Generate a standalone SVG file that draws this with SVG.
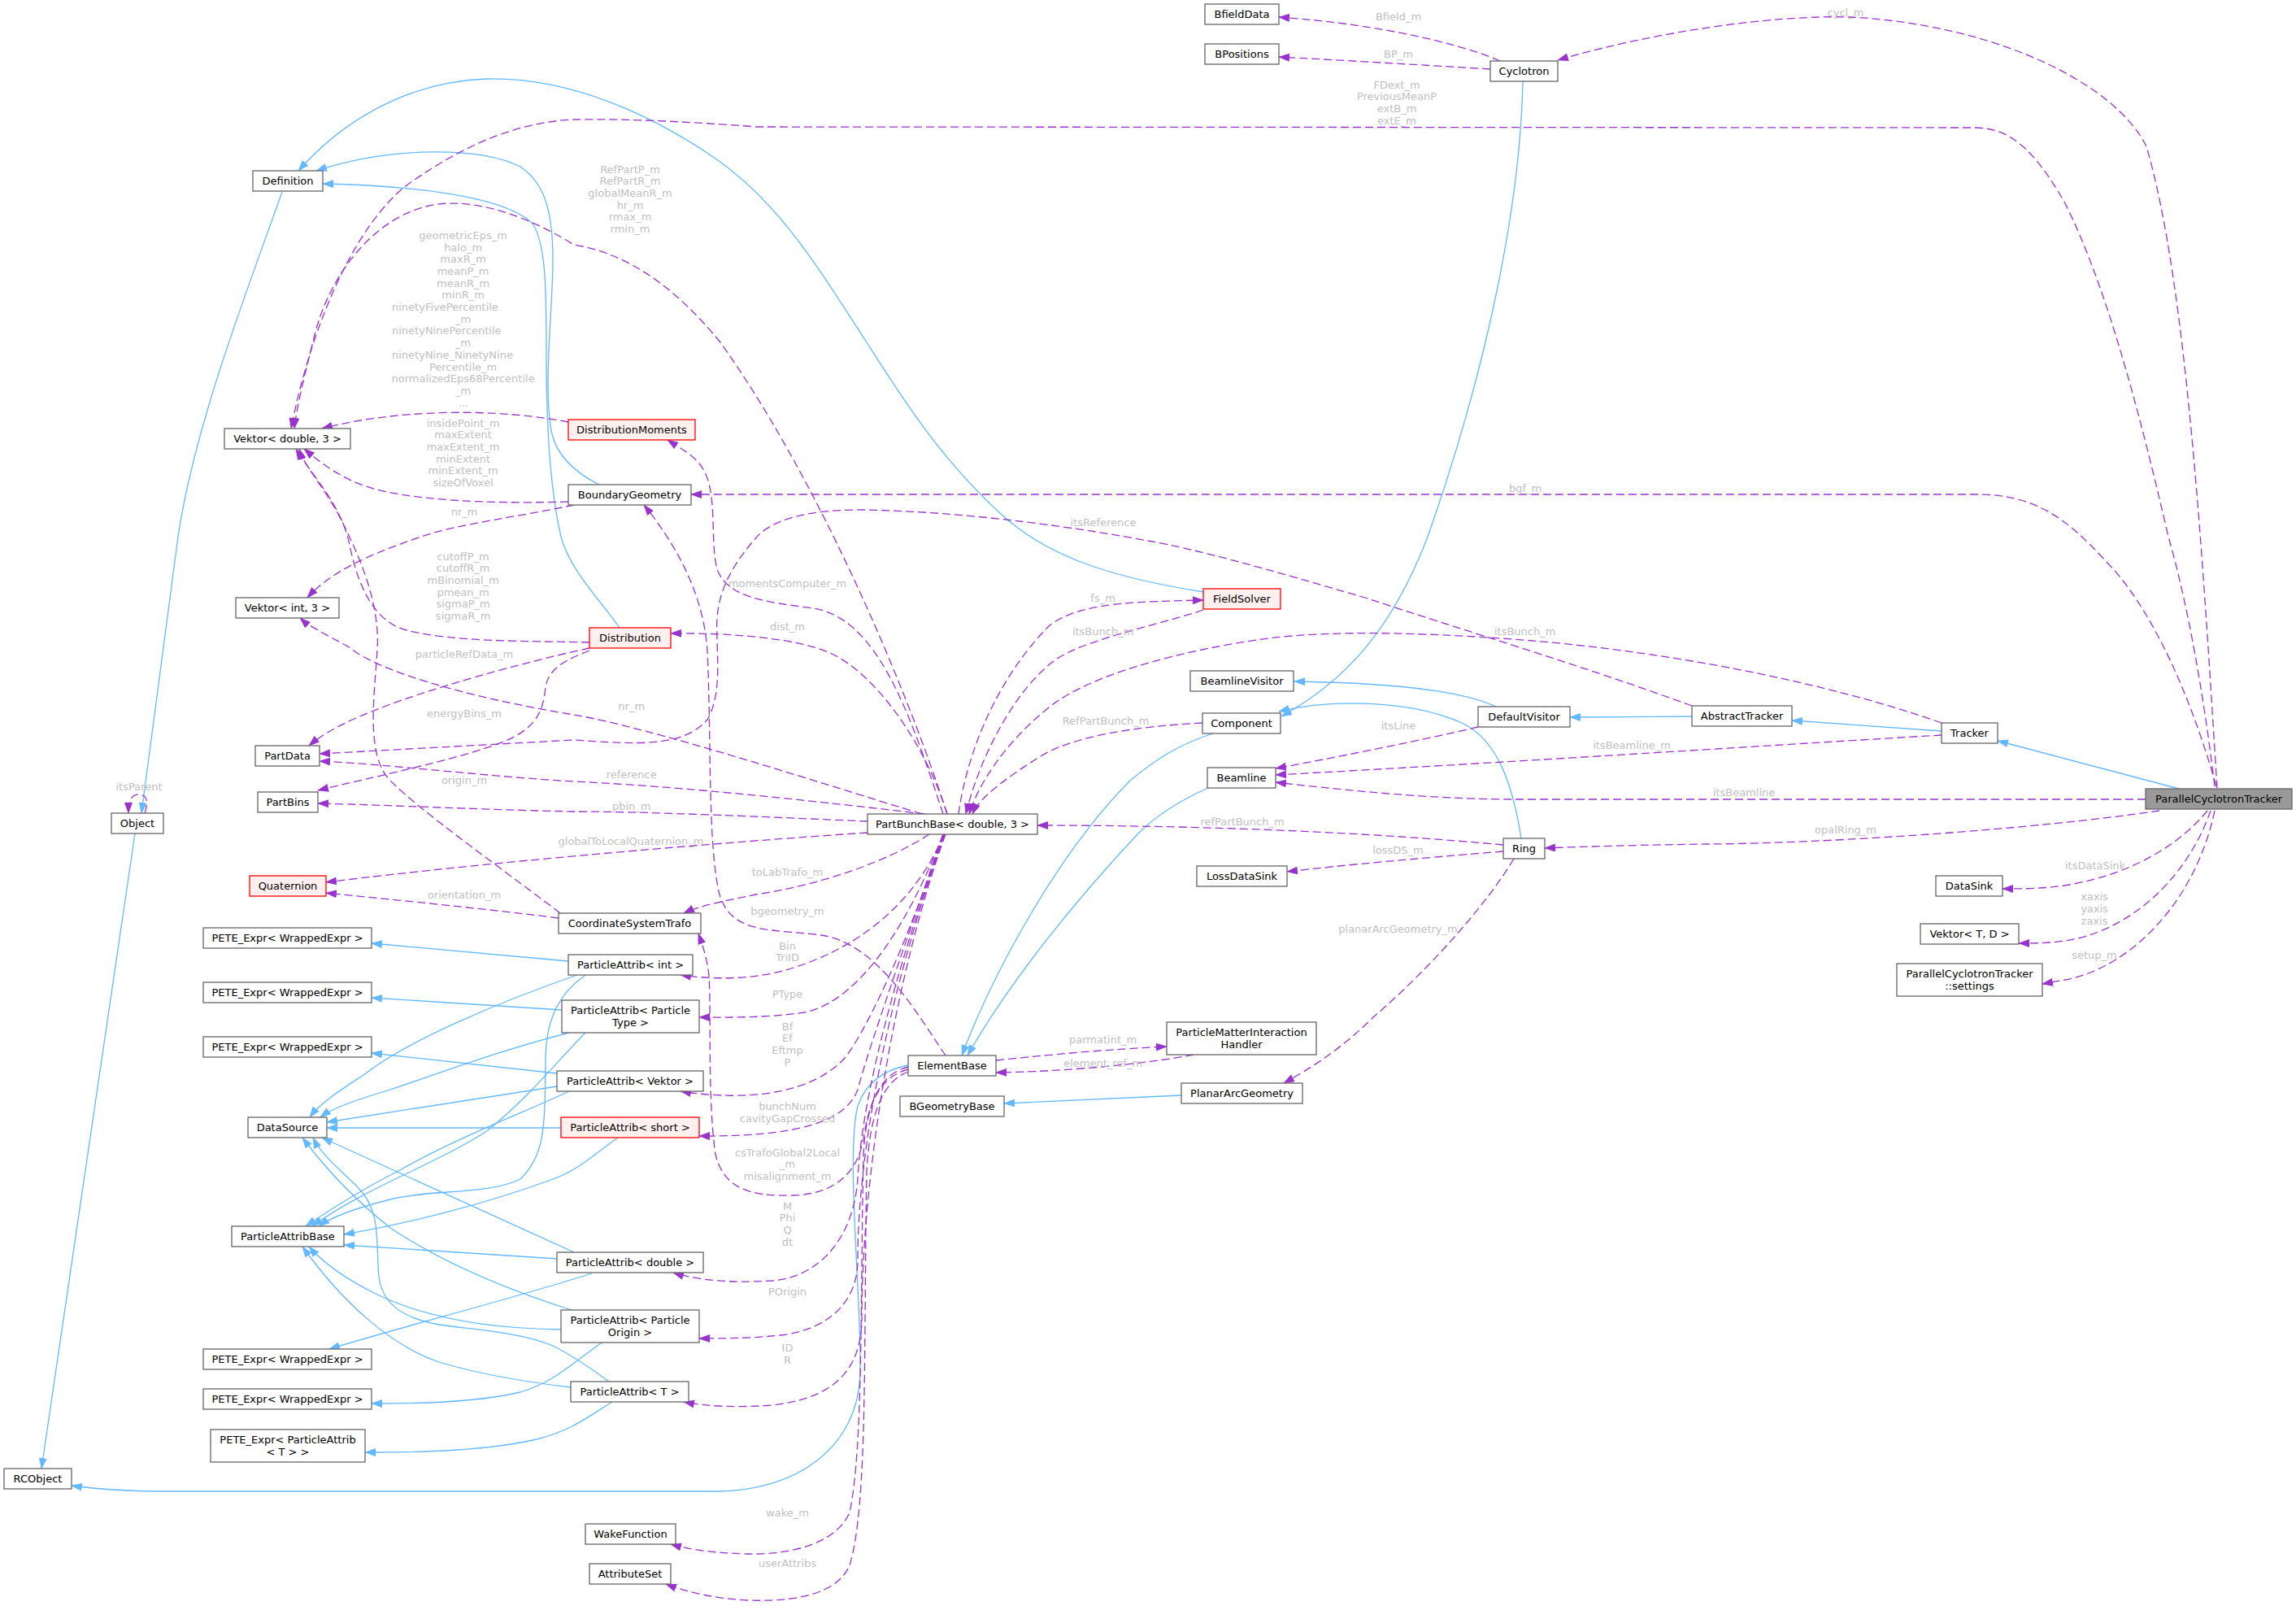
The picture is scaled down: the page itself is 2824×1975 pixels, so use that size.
<svg xmlns="http://www.w3.org/2000/svg" width="2824" height="1975" viewBox="0 0 2824 1975">
<style>
.n rect{fill:#fff;stroke:#666;stroke-width:1.3}
.n.r rect{fill:#fff0f0;stroke:#ff0000}
.n.g rect{fill:#999;stroke:#666}
.n text{font-family:"DejaVu Sans",sans-serif;font-size:13px;fill:#000;text-anchor:middle}
.i{fill:none;stroke:#63b8ff;stroke-width:1.3;marker-end:url(#ab)}
.u{fill:none;stroke:#9a32cd;stroke-width:1.3;stroke-dasharray:10,5;marker-end:url(#ap)}
.l{font-family:"DejaVu Sans",sans-serif;font-size:13px;fill:#c0c0c0;text-anchor:middle}
.ls{text-anchor:start}
</style>
<defs>
<marker id="ab" viewBox="0 0 14 10" refX="13" refY="5" markerWidth="14" markerHeight="10" markerUnits="userSpaceOnUse" orient="auto"><path d="M0,0 L14,5 L0,10 z" fill="#63b8ff"/></marker>
<marker id="ap" viewBox="0 0 14 10" refX="13" refY="5" markerWidth="14" markerHeight="10" markerUnits="userSpaceOnUse" orient="auto"><path d="M0,0 L14,5 L0,10 z" fill="#9a32cd"/></marker>
</defs>
<rect width="2824" height="1975" fill="#fff"/>
<g id="connectors">
<path class="i" d="M347,236 C305,355 240,520 219,660 L174,1000"/>
<path class="i" d="M166,1025 L51,1806"/>
<path class="i" d="M1480,728 C1380,712 1300,690 1240,640 C1160,570 1110,490 1066,421 C1010,335 960,250 880,195 C800,140 700,95 600,97 C500,100 420,150 367,210"/>
<path class="i" d="M737,596 C715,585 685,565 678,530 C668,470 680,380 680,320 C680,260 670,225 640,205 C590,180 480,180 389,210"/>
<path class="i" d="M762,772 C740,740 700,700 690,660 C676,600 672,520 672,440 C672,360 672,300 655,275 C620,240 500,228 397,226"/>
<path class="i" d="M1873,100 C1870,250 1830,450 1756,660 C1710,780 1650,840 1576,881"/>
<path class="i" d="M1871,1031 C1860,960 1840,910 1800,890 C1740,862 1640,858 1573,875"/>
<path class="i" d="M1840,869 C1800,850 1720,840 1592,838"/>
<path class="i" d="M2081,881 L1931,882"/>
<path class="i" d="M2388,899 L2204,886"/>
<path class="i" d="M2680,970 L2457,911"/>
<path class="i" d="M1492,902 C1450,915 1420,935 1390,960 C1300,1050 1220,1200 1183,1298"/>
<path class="i" d="M1486,969 C1450,985 1420,1005 1400,1025 C1320,1110 1240,1210 1190,1298"/>
<path class="i" d="M1453,1347 L1235,1357"/>
<path class="i" d="M1117,1310 C1090,1315 1065,1330 1055,1360 C1040,1420 1060,1600 1058,1690 C1055,1780 980,1834 880,1834 L200,1834 C150,1834 110,1830 88,1827"/>
<path class="i" d="M699,1182 L457,1160"/>
<path class="i" d="M691,1242 L457,1227"/>
<path class="i" d="M685,1320 L457,1295"/>
<path class="i" d="M728,1566 C620,1600 500,1630 405,1659"/>
<path class="i" d="M740,1651 C700,1680 680,1700 640,1712 C580,1726 500,1726 457,1726"/>
<path class="i" d="M753,1724 C720,1745 700,1760 660,1770 C600,1784 520,1786 449,1786"/>
<path class="i" d="M710,1199 C620,1230 500,1280 450,1320 C420,1340 395,1355 381,1374"/>
<path class="i" d="M700,1270 C620,1290 540,1320 480,1340 C440,1352 410,1362 394,1374"/>
<path class="i" d="M685,1336 L402,1380"/>
<path class="i" d="M690,1387 L402,1387"/>
<path class="i" d="M706,1540 L396,1399"/>
<path class="i" d="M706,1612 C620,1585 540,1550 480,1510 C430,1470 395,1430 372,1399"/>
<path class="i" d="M749,1699 C730,1685 700,1665 680,1655 C640,1638 580,1635 540,1629 C490,1620 470,1600 466,1570 C462,1530 470,1490 440,1460 C420,1440 395,1420 385,1399"/>
<path class="i" d="M720,1199 C690,1220 672,1250 671,1300 C670,1380 672,1420 640,1450 C600,1470 530,1462 480,1475 C440,1485 410,1495 392,1508"/>
<path class="i" d="M720,1270 C690,1300 650,1350 600,1390 C540,1430 450,1460 384,1508"/>
<path class="i" d="M700,1342 C640,1370 560,1400 490,1440 C450,1460 410,1485 376,1508"/>
<path class="i" d="M760,1399 C730,1420 710,1440 680,1450 C600,1480 500,1505 423,1518"/>
<path class="i" d="M685,1548 L423,1531"/>
<path class="i" d="M690,1635 C600,1634 520,1620 460,1590 C420,1570 395,1550 380,1533"/>
<path class="i" d="M702,1706 C650,1700 590,1690 540,1675 C480,1655 420,1600 372,1533"/>
<path class="u" d="M2727,969 C2710,700 2690,350 2640,180 C2600,100 2450,30 2276,21 C2180,18 2030,40 1916,74"/>
<path class="u" d="M2724,967 C2710,850 2690,740 2667,660 C2630,500 2590,350 2540,250 C2500,180 2470,157 2428,157 L931,156 C850,150 780,146 706,147 C630,150 560,185 500,228 C440,275 385,390 358,527"/>
<path class="u" d="M2726,967 C2690,840 2640,740 2590,690 C2540,635 2500,608 2433,608 L850,608"/>
<path class="u" d="M2639,983 L1862,983 C1780,983 1680,975 1569,962"/>
<path class="u" d="M2656,997 C2500,1020 2250,1037 2100,1038 C2020,1039 1950,1041 1900,1043"/>
<path class="u" d="M2715,997 C2680,1040 2620,1075 2545,1088 C2515,1093 2490,1093 2463,1093"/>
<path class="u" d="M2719,997 C2690,1080 2620,1145 2540,1157 C2520,1160 2500,1160 2483,1160"/>
<path class="u" d="M2724,997 C2700,1110 2620,1190 2540,1205 L2512,1210"/>
<path class="u" d="M2388,889 C2250,840 2050,800 1860,786 C1750,778 1640,775 1560,785 C1450,800 1340,830 1290,870 C1240,910 1205,960 1192,1001"/>
<path class="u" d="M1480,750 C1420,770 1340,785 1300,810 C1250,845 1205,930 1188,1001"/>
<path class="u" d="M1179,1001 C1190,920 1230,830 1291,769 C1330,740 1400,740 1480,738"/>
<path class="u" d="M1479,889 C1400,893 1320,905 1280,930 C1240,955 1205,980 1196,1001"/>
<path class="u" d="M1849,1039 C1700,1025 1500,1015 1276,1015"/>
<path class="u" d="M1849,1047 C1750,1055 1650,1064 1583,1072"/>
<path class="u" d="M1862,1056 C1830,1110 1760,1190 1690,1250 C1650,1290 1610,1315 1579,1332"/>
<path class="u" d="M1818,894 C1750,910 1650,930 1569,945"/>
<path class="u" d="M2388,904 C2200,915 1900,935 1569,953"/>
<path class="u" d="M2081,868 C1950,820 1800,775 1682,736 C1560,700 1470,675 1412,665 C1330,650 1200,630 1066,627 C990,626 950,640 931,660 C905,690 885,720 882,760 C880,800 890,850 870,885 C840,920 780,915 706,910 L393,927"/>
<path class="u" d="M1163,1298 C1130,1250 1080,1160 1010,1150 C950,1142 900,1150 885,1100 C870,1040 875,900 870,800 C866,740 840,680 792,621"/>
<path class="u" d="M1160,1001 C1120,880 1080,760 1000,748 C940,740 895,735 882,700 C872,660 885,600 860,570 C850,558 835,550 821,541"/>
<path class="u" d="M1165,1001 C1110,830 1000,580 886,421 C820,340 760,310 706,301 C640,260 570,240 520,255 C450,275 400,350 385,420 C375,460 365,500 362,527"/>
<path class="u" d="M699,519 C600,500 480,505 396,527"/>
<path class="u" d="M699,617 C600,620 500,615 450,598 C420,588 395,570 374,552"/>
<path class="u" d="M706,621 C640,635 560,645 518,660 C460,680 410,700 378,735"/>
<path class="u" d="M725,790 C650,788 560,790 500,775 C460,765 440,720 430,670 C420,620 380,580 364,552"/>
<path class="u" d="M689,1123 C620,1070 520,1000 480,960 C450,930 460,860 464,800 C468,740 440,680 420,640 C400,600 375,575 368,552"/>
<path class="u" d="M725,797 C640,815 520,850 470,870 C430,885 400,900 380,917"/>
<path class="u" d="M725,800 C700,810 675,820 671,845 C668,875 660,895 620,912 C560,935 460,955 391,972"/>
<path class="u" d="M1134,1001 C1000,960 800,895 706,879 C600,862 470,830 428,795 C400,780 380,770 369,760"/>
<path class="u" d="M1138,1001 C1000,985 850,968 706,961 C600,955 480,940 393,936"/>
<path class="u" d="M1067,1010 C950,1005 800,998 706,998 C600,996 480,990 391,988"/>
<path class="u" d="M1067,1024 C900,1035 600,1060 401,1085"/>
<path class="u" d="M687,1129 C600,1118 500,1108 401,1098"/>
<path class="u" d="M1143,1026 C1090,1060 1010,1088 930,1100 C890,1108 860,1114 841,1123"/>
<path class="u" d="M1165,1001 C1140,920 1080,830 1021,803 C980,785 900,778 825,779"/>
<path class="u" d="M1161,1026 C1130,1100 1070,1160 976,1190 C930,1205 880,1205 837,1199"/>
<path class="u" d="M1160,1026 C1120,1130 1060,1230 990,1245 C940,1252 900,1251 860,1251"/>
<path class="u" d="M1160,1026 C1120,1150 1070,1260 1040,1300 C1000,1345 920,1355 837,1342"/>
<path class="u" d="M1160,1026 C1110,1170 1065,1300 1055,1340 C1040,1380 980,1398 860,1397"/>
<path class="u" d="M1161,1026 C1100,1200 1060,1350 1055,1450 C1050,1520 1010,1570 950,1575 C900,1578 860,1575 828,1565"/>
<path class="u" d="M1162,1026 C1100,1200 1055,1400 1055,1550 C1055,1600 1020,1635 960,1642 C920,1646 890,1646 860,1646"/>
<path class="u" d="M1163,1026 C1100,1200 1060,1450 1060,1620 C1060,1690 1020,1720 950,1728 C910,1731 870,1730 841,1724"/>
<path class="u" d="M1117,1315 C1080,1325 1065,1360 1062,1420 C1058,1600 1062,1780 1045,1860 C1030,1895 980,1912 920,1911 C880,1910 850,1906 825,1899"/>
<path class="u" d="M1117,1318 C1085,1330 1070,1370 1066,1440 C1062,1650 1068,1850 1045,1925 C1030,1960 980,1970 920,1968 C880,1966 845,1958 819,1948"/>
<path class="u" d="M1117,1312 C1085,1320 1070,1350 1062,1400 C1055,1440 1030,1468 976,1470 C920,1472 890,1460 880,1420 C870,1350 875,1250 872,1200 C870,1180 865,1165 859,1148"/>
<path class="u" d="M1225,1304 C1300,1296 1370,1290 1435,1287"/>
<path class="u" d="M1468,1297 C1400,1310 1300,1318 1225,1319"/>
<path class="u" d="M1845,75 C1800,55 1700,30 1573,21"/>
<path class="u" d="M1833,85 C1750,80 1650,74 1573,70"/>
<path class="u" d="M178,1000 C182,988 182,978 172,977 C162,976 158,985 158,1000"/>
</g>
<g id="edge-labels">
<text class="l" x="2270" y="19.5">cycl_m</text>
<text class="l" x="1720" y="24.5">Bfield_m</text>
<text class="l" x="1720" y="71">BP_m</text>
<text class="l" x="1718" y="108.5">FDext_m<tspan x="1718" dy="14.67">PreviousMeanP</tspan><tspan x="1718" dy="14.67">extB_m</tspan><tspan x="1718" dy="14.67">extE_m</tspan></text>
<text class="l" x="775" y="212.5">RefPartP_m<tspan x="775" dy="14.67">RefPartR_m</tspan><tspan x="775" dy="14.67">globalMeanR_m</tspan><tspan x="775" dy="14.67">hr_m</tspan><tspan x="775" dy="14.67">rmax_m</tspan><tspan x="775" dy="14.67">rmin_m</tspan></text>
<text class="l" x="569.6" y="294.1">geometricEps_m<tspan x="569.6" dy="14.67">halo_m</tspan><tspan x="569.6" dy="14.67">maxR_m</tspan><tspan x="569.6" dy="14.67">meanP_m</tspan><tspan x="569.6" dy="14.67">meanR_m</tspan><tspan x="569.6" dy="14.67">minR_m</tspan></text>
<text class="l ls" x="482" y="382.1">ninetyFivePercentile</text>
<text class="l" x="569.6" y="396.8">_m</text>
<text class="l ls" x="482" y="411.4">ninetyNinePercentile</text>
<text class="l" x="569.6" y="426.1">_m</text>
<text class="l ls" x="482" y="440.8">ninetyNine_NinetyNine</text>
<text class="l" x="569.6" y="455.5">Percentile_m</text>
<text class="l" x="569.6" y="470.1">normalizedEps68Percentile</text>
<text class="l" x="569.6" y="484.8">_m</text>
<text class="l" x="569.6" y="499.5">...</text>
<text class="l" x="569.6" y="524.5">insidePoint_m<tspan x="569.6" dy="14.67">maxExtent</tspan><tspan x="569.6" dy="14.67">maxExtent_m</tspan><tspan x="569.6" dy="14.67">minExtent</tspan><tspan x="569.6" dy="14.67">minExtent_m</tspan><tspan x="569.6" dy="14.67">sizeOfVoxel</tspan></text>
<text class="l" x="571" y="633.5">nr_m</text>
<text class="l" x="1876" y="604.5">bgf_m</text>
<text class="l" x="1357" y="647">itsReference</text>
<text class="l" x="569.6" y="688.5">cutoffP_m<tspan x="569.6" dy="14.67">cutoffR_m</tspan><tspan x="569.6" dy="14.67">mBinomial_m</tspan><tspan x="569.6" dy="14.67">pmean_m</tspan><tspan x="569.6" dy="14.67">sigmaP_m</tspan><tspan x="569.6" dy="14.67">sigmaR_m</tspan></text>
<text class="l" x="968.5" y="722.2">momentsComputer_m</text>
<text class="l" x="1356.6" y="739.5">fs_m</text>
<text class="l" x="968.5" y="775.2">dist_m</text>
<text class="l" x="1356.6" y="781.1">itsBunch_m</text>
<text class="l" x="1875.7" y="781.1">itsBunch_m</text>
<text class="l" x="571" y="808.5">particleRefData_m</text>
<text class="l" x="776.7" y="872.5">nr_m</text>
<text class="l" x="571" y="882.1">energyBins_m</text>
<text class="l" x="1360" y="891">RefPartBunch_m</text>
<text class="l" x="1720" y="896.5">itsLine</text>
<text class="l" x="2007" y="920.5">itsBeamline_m</text>
<text class="l" x="776.7" y="956.5">reference</text>
<text class="l" x="571" y="963.5">origin_m</text>
<text class="l" x="2145" y="978.9">itsBeamline</text>
<text class="l" x="776.7" y="995.5">pbin_m</text>
<text class="l" x="1528" y="1015.1">refPartBunch_m</text>
<text class="l" x="2270" y="1025.2">opalRing_m</text>
<text class="l" x="776" y="1039.1">globalToLocalQuaternion_m</text>
<text class="l" x="1719.5" y="1050">lossDS_m</text>
<text class="l" x="2577" y="1068.5">itsDataSink</text>
<text class="l" x="968.5" y="1077">toLabTrafo_m</text>
<text class="l" x="571" y="1104.5">orientation_m</text>
<text class="l" x="2576" y="1107.2">xaxis<tspan x="2576" dy="14.67">yaxis</tspan><tspan x="2576" dy="14.67">zaxis</tspan></text>
<text class="l" x="968.5" y="1124.5">bgeometry_m</text>
<text class="l" x="1719.5" y="1147.2">planarArcGeometry_m</text>
<text class="l" x="968.5" y="1167.5">Bin<tspan x="968.5" dy="14.67">TriID</tspan></text>
<text class="l" x="2576" y="1178.5">setup_m</text>
<text class="l" x="968.5" y="1226.5">PType</text>
<text class="l" x="968.5" y="1266.5">Bf<tspan x="968.5" dy="14.67">Ef</tspan><tspan x="968.5" dy="14.67">Eftmp</tspan><tspan x="968.5" dy="14.67">P</tspan></text>
<text class="l" x="1356.6" y="1283.2">parmatint_m</text>
<text class="l" x="1356.6" y="1311.5">element_ref_m</text>
<text class="l" x="968.5" y="1365">bunchNum<tspan x="968.5" dy="14.67">cavityGapCrossed</tspan></text>
<text class="l" x="968.5" y="1421.5">csTrafoGlobal2Local<tspan x="968.5" dy="14.67">_m</tspan><tspan x="968.5" dy="14.67">misalignment_m</tspan></text>
<text class="l" x="968.5" y="1487.5">M<tspan x="968.5" dy="14.67">Phi</tspan><tspan x="968.5" dy="14.67">Q</tspan><tspan x="968.5" dy="14.67">dt</tspan></text>
<text class="l" x="968.5" y="1593.1">POrigin</text>
<text class="l" x="968.5" y="1662">ID<tspan x="968.5" dy="14.67">R</tspan></text>
<text class="l" x="968.5" y="1864.5">wake_m</text>
<text class="l" x="968.5" y="1927.2">userAttribs</text>
<text class="l" x="171" y="971.5">itsParent</text>
</g>
<g id="n-pct" class="n g"><rect x="2639" y="970" width="180" height="25"/><text x="2729" y="987.1">ParallelCyclotronTracker</text></g>
<g id="n-tracker" class="n"><rect x="2388" y="889" width="69" height="25"/><text x="2422.5" y="906.1">Tracker</text></g>
<g id="n-abstracttracker" class="n"><rect x="2081" y="868" width="123" height="25"/><text x="2142.5" y="885.1">AbstractTracker</text></g>
<g id="n-defaultvisitor" class="n"><rect x="1818" y="869" width="113" height="25"/><text x="1874.5" y="886.1">DefaultVisitor</text></g>
<g id="n-beamlinevisitor" class="n"><rect x="1464" y="825" width="127" height="25"/><text x="1527.5" y="842.1">BeamlineVisitor</text></g>
<g id="n-component" class="n"><rect x="1479" y="877" width="96" height="25"/><text x="1527" y="894.1">Component</text></g>
<g id="n-beamline" class="n"><rect x="1485" y="944" width="84" height="25"/><text x="1527" y="961.1">Beamline</text></g>
<g id="n-ring" class="n"><rect x="1849" y="1031" width="51" height="25"/><text x="1874.5" y="1048.1">Ring</text></g>
<g id="n-lossdatasink" class="n"><rect x="1472" y="1065" width="111" height="25"/><text x="1527.5" y="1082.1">LossDataSink</text></g>
<g id="n-fieldsolver" class="n r"><rect x="1480" y="724" width="95" height="25"/><text x="1527.5" y="741.1">FieldSolver</text></g>
<g id="n-cyclotron" class="n"><rect x="1833" y="75" width="83" height="25"/><text x="1874.5" y="92.1">Cyclotron</text></g>
<g id="n-bfielddata" class="n"><rect x="1482" y="5" width="91" height="25"/><text x="1527.5" y="22.1">BfieldData</text></g>
<g id="n-bpositions" class="n"><rect x="1482" y="54" width="91" height="25"/><text x="1527.5" y="71.1">BPositions</text></g>
<g id="n-datasink" class="n"><rect x="2381" y="1077" width="82" height="25"/><text x="2422" y="1094.1">DataSink</text></g>
<g id="n-vektortd" class="n"><rect x="2362" y="1136" width="121" height="25"/><text x="2422.5" y="1153.1">Vektor&lt; T, D &gt;</text></g>
<g id="n-settings" class="n"><rect x="2333" y="1185" width="179" height="40"/><text x="2422.5" y="1202.2">ParallelCyclotronTracker</text><text x="2422.5" y="1216.9">::settings</text></g>
<g id="n-pmih" class="n"><rect x="1435" y="1257" width="184" height="40"/><text x="1527" y="1274.2">ParticleMatterInteraction</text><text x="1527" y="1288.9">Handler</text></g>
<g id="n-planararcgeometry" class="n"><rect x="1453" y="1332" width="149" height="25"/><text x="1527.5" y="1349.1">PlanarArcGeometry</text></g>
<g id="n-bgeometrybase" class="n"><rect x="1107" y="1348" width="128" height="25"/><text x="1171" y="1365.1">BGeometryBase</text></g>
<g id="n-elementbase" class="n"><rect x="1117" y="1298" width="108" height="25"/><text x="1171" y="1315.1">ElementBase</text></g>
<g id="n-partbunchbase" class="n"><rect x="1067" y="1001" width="209" height="25"/><text x="1171.5" y="1018.1">PartBunchBase&lt; double, 3 &gt;</text></g>
<g id="n-distributionmoments" class="n r"><rect x="699" y="516" width="156" height="25"/><text x="777" y="533.1">DistributionMoments</text></g>
<g id="n-boundarygeometry" class="n"><rect x="699" y="596" width="151" height="25"/><text x="774.5" y="613.1">BoundaryGeometry</text></g>
<g id="n-distribution" class="n r"><rect x="725" y="772" width="100" height="25"/><text x="775" y="789.1">Distribution</text></g>
<g id="n-definition" class="n"><rect x="311" y="210" width="86" height="25"/><text x="354" y="227.1">Definition</text></g>
<g id="n-vektord3" class="n"><rect x="276" y="527" width="155" height="25"/><text x="353.5" y="544.1">Vektor&lt; double, 3 &gt;</text></g>
<g id="n-vektori3" class="n"><rect x="290" y="735" width="127" height="25"/><text x="353.5" y="752.1">Vektor&lt; int, 3 &gt;</text></g>
<g id="n-partdata" class="n"><rect x="314" y="917" width="79" height="25"/><text x="353.5" y="934.1">PartData</text></g>
<g id="n-partbins" class="n"><rect x="317" y="974" width="74" height="25"/><text x="354" y="991.1">PartBins</text></g>
<g id="n-object" class="n"><rect x="137" y="1000" width="64" height="25"/><text x="169" y="1017.1">Object</text></g>
<g id="n-quaternion" class="n r"><rect x="307" y="1077" width="94" height="25"/><text x="354" y="1094.1">Quaternion</text></g>
<g id="n-pete1" class="n"><rect x="250" y="1141" width="207" height="25"/><text x="353.5" y="1158.1">PETE_Expr&lt; WrappedExpr &gt;</text></g>
<g id="n-pete2" class="n"><rect x="250" y="1208" width="207" height="25"/><text x="353.5" y="1225.1">PETE_Expr&lt; WrappedExpr &gt;</text></g>
<g id="n-pete3" class="n"><rect x="250" y="1275" width="207" height="25"/><text x="353.5" y="1292.1">PETE_Expr&lt; WrappedExpr &gt;</text></g>
<g id="n-datasource" class="n"><rect x="305" y="1374" width="97" height="25"/><text x="353.5" y="1391.1">DataSource</text></g>
<g id="n-particleattribbase" class="n"><rect x="285" y="1508" width="138" height="25"/><text x="354" y="1525.1">ParticleAttribBase</text></g>
<g id="n-pete4" class="n"><rect x="250" y="1659" width="207" height="25"/><text x="353.5" y="1676.1">PETE_Expr&lt; WrappedExpr &gt;</text></g>
<g id="n-pete5" class="n"><rect x="250" y="1708" width="207" height="25"/><text x="353.5" y="1725.1">PETE_Expr&lt; WrappedExpr &gt;</text></g>
<g id="n-petepat" class="n"><rect x="259" y="1758" width="190" height="40"/><text x="354" y="1775.2">PETE_Expr&lt; ParticleAttrib</text><text x="354" y="1789.9">&lt; T &gt; &gt;</text></g>
<g id="n-rcobject" class="n"><rect x="5" y="1806" width="83" height="25"/><text x="46.5" y="1823.1">RCObject</text></g>
<g id="n-cst" class="n"><rect x="687" y="1123" width="175" height="25"/><text x="774.5" y="1140.1">CoordinateSystemTrafo</text></g>
<g id="n-pa-int" class="n"><rect x="699" y="1174" width="153" height="25"/><text x="775.5" y="1191.1">ParticleAttrib&lt; int &gt;</text></g>
<g id="n-pa-ptype" class="n"><rect x="691" y="1230" width="169" height="40"/><text x="775.5" y="1247.2">ParticleAttrib&lt; Particle</text><text x="775.5" y="1261.9">Type &gt;</text></g>
<g id="n-pa-vektor" class="n"><rect x="685" y="1317" width="180" height="25"/><text x="775" y="1334.1">ParticleAttrib&lt; Vektor &gt;</text></g>
<g id="n-pa-short" class="n r"><rect x="690" y="1374" width="170" height="25"/><text x="775" y="1391.1">ParticleAttrib&lt; short &gt;</text></g>
<g id="n-pa-double" class="n"><rect x="685" y="1540" width="180" height="25"/><text x="775" y="1557.1">ParticleAttrib&lt; double &gt;</text></g>
<g id="n-pa-porigin" class="n"><rect x="690" y="1611" width="170" height="40"/><text x="775" y="1628.2">ParticleAttrib&lt; Particle</text><text x="775" y="1642.9">Origin &gt;</text></g>
<g id="n-pa-t" class="n"><rect x="702" y="1699" width="145" height="25"/><text x="774.5" y="1716.1">ParticleAttrib&lt; T &gt;</text></g>
<g id="n-wakefunction" class="n"><rect x="720" y="1874" width="111" height="25"/><text x="775.5" y="1891.1">WakeFunction</text></g>
<g id="n-attributeset" class="n"><rect x="725" y="1923" width="100" height="25"/><text x="775" y="1940.1">AttributeSet</text></g>
</svg>
